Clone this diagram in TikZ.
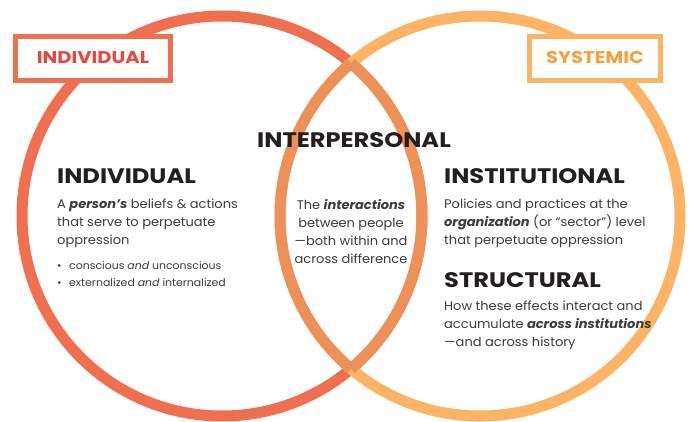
\documentclass[tikz,border=0pt]{standalone}
\usepackage{fontspec}
\setmainfont{Poppins}[FakeStretch=1.04]
\newfontfamily\headfont{Poppins}[FakeStretch=1.15]
\definecolor{cred}{HTML}{EF6F50}
\definecolor{corg}{HTML}{FBB466}
\definecolor{cmid}{HTML}{EE9159}
\definecolor{tred}{HTML}{E9463D}
\definecolor{torg}{HTML}{F7A13D}
\definecolor{thead}{HTML}{231F20}
\definecolor{tbody}{HTML}{3C3C3C}
\begin{document}
\begin{tikzpicture}[x=1pt,y=-1pt,
  ring/.style={line width=11pt},
  tag/.style={draw, line width=5pt, fill=white, minimum width=155pt, minimum height=44pt, inner sep=0pt},
  tagtext/.style={font=\headfont\fontsize{17}{20}\selectfont\bfseries, anchor=base, inner sep=0pt},
  head/.style={font=\headfont\fontsize{21}{24}\selectfont\bfseries, text=thead, anchor=base west, inner sep=0pt},
  body/.style={font=\fontsize{12.5}{18}\selectfont, text=tbody, anchor=base west, inner sep=0pt},
  cbody/.style={body, anchor=base},
  small/.style={font=\fontsize{10.5}{12}\selectfont, text=tbody, anchor=base west, inner sep=0pt}]
\useasboundingbox (0,0) rectangle (692,422);
\coordinate (L) at (222,216);
\coordinate (R) at (480,216);
\draw[ring, cred] (L) circle[radius=200pt];
\draw[ring, corg] (R) circle[radius=200pt];
\draw[ring, cmid] ([shift={(-49.8:200pt)}]L) arc[start angle=-49.8, end angle=49.8, radius=200pt];
\draw[ring, cmid] ([shift={(130.2:200pt)}]R) arc[start angle=130.2, end angle=229.8, radius=200pt];
% tags
\node[tag, draw=cred, minimum width=155pt] (tagI) at (93,58.5) {};
\node[tagtext, text=tred] (tagIt) at (93,64) {INDIVIDUAL};
\node[tag, draw=corg, minimum width=131pt] (tagS) at (595,58.5) {};
\node[tagtext, text=torg] (tagSt) at (595,64) {SYSTEMIC};
% interpersonal
\node[head, anchor=base] (ip) at (354,148) {INTERPERSONAL};
\node[cbody] (c1) at (351,209) {The \textbf{\textit{interactions}}};
\node[cbody] (c2) at (351,227) {between people};
\node[cbody] (c3) at (351,245) {—both within and};
\node[cbody] (c4) at (351,263) {across difference};
% individual
\node[head] (hI) at (57,183) {INDIVIDUAL};
\node[body] (i1) at (57,208) {A \textbf{\textit{person’s}} beliefs \& actions};
\node[body] (i2) at (57,226) {that serve to perpetuate};
\node[body] (i3) at (57,244) {oppression};
\node[small] (b1) at (57,269) {•};
\node[small] (b1t) at (69,269) {conscious \textit{and} unconscious};
\node[small] (b2) at (57,286) {•};
\node[small] (b2t) at (69,286) {externalized \textit{and} internalized};
% institutional
\node[head] (hN) at (444,183) {INSTITUTIONAL};
\node[body] (n1) at (444,208) {Policies and practices at the};
\node[body] (n2) at (444,226) {\textbf{\textit{organization}} (or “sector”) level};
\node[body] (n3) at (444,244) {that perpetuate oppression};
% structural
\node[head] (hS) at (444,287) {STRUCTURAL};
\node[body] (s1) at (444,310) {How these effects interact and};
\node[body] (s2) at (444,328) {accumulate \textbf{\textit{across institutions}}};
\node[body] (s3) at (444,346) {—and across history};
\end{tikzpicture}
\end{document}
